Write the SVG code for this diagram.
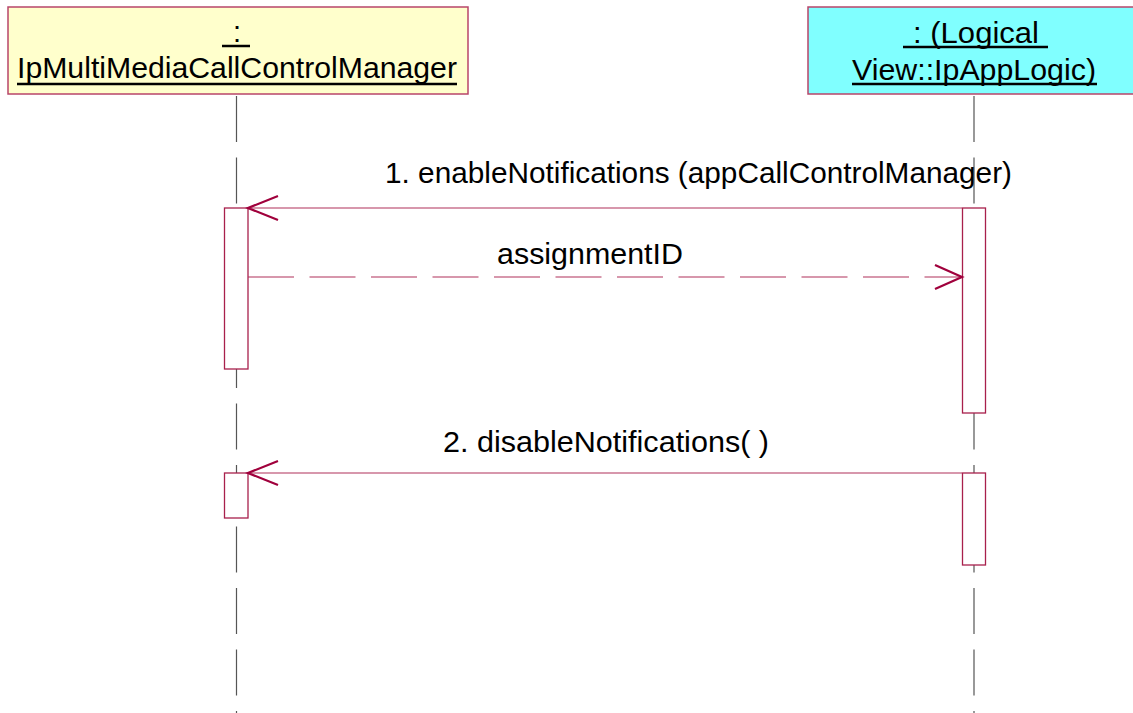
<svg xmlns="http://www.w3.org/2000/svg" width="1133" height="713" viewBox="0 0 1133 713">
<style>
text{font-family:"Liberation Sans",Arial,sans-serif;font-size:29px;fill:#000}
.obj{stroke:#b8456a;stroke-width:1.5}
.ul{stroke:#000;stroke-width:2.5}
.life{stroke:#555;stroke-width:1.2;stroke-dasharray:46 15.5;fill:none}
.act{fill:#fff;stroke:#a8204c;stroke-width:1.3}
.msg{stroke:#b0305a;stroke-width:1.2;fill:none}
.ret{stroke:#b0305a;stroke-width:1.2;fill:none;stroke-dasharray:46 15.5}
.head{stroke:#a0003c;stroke-width:2.2;fill:none}
</style>
<rect width="1133" height="713" fill="#fff"/>
<g id="lifelines">
<line class="life" x1="236.5" y1="96" x2="236.5" y2="713"/>
<line class="life" x1="974" y1="96" x2="974" y2="713"/>
</g>
<g id="node-manager">
<rect class="obj" x="8" y="7" width="460" height="87" fill="#ffffcc"/>
<text x="237" y="42" text-anchor="middle">:</text>
<line class="ul" x1="222" y1="46" x2="250" y2="46"/>
<text x="17" y="78" textLength="440" lengthAdjust="spacingAndGlyphs">IpMultiMediaCallControlManager</text>
<line class="ul" x1="17" y1="84" x2="457" y2="84"/>
</g>
<g id="node-applogic">
<rect class="obj" x="808" y="7" width="330" height="87" fill="#80ffff"/>
<text x="913" y="43" textLength="126" lengthAdjust="spacingAndGlyphs">: (Logical</text>
<line class="ul" x1="903" y1="47" x2="1048" y2="47"/>
<text x="852" y="80" textLength="244" lengthAdjust="spacingAndGlyphs">View::IpAppLogic)</text>
<line class="ul" x1="852" y1="84" x2="1097" y2="84"/>
</g>
<g id="activations">
<rect class="act" x="224.5" y="208" width="23.5" height="161"/>
<rect class="act" x="962.5" y="208" width="23" height="205"/>
<rect class="act" x="224.5" y="473" width="23.5" height="45"/>
<rect class="act" x="962.5" y="473" width="23" height="92"/>
</g>
<g id="connectors">
<line class="msg" x1="962" y1="208" x2="248" y2="208"/>
<polyline class="head" points="278,196 248,208 278,220"/>
<text x="385" y="183" textLength="627" lengthAdjust="spacingAndGlyphs">1. enableNotifications (appCallControlManager)</text>
<line class="ret" x1="248" y1="277" x2="962" y2="277"/>
<polyline class="head" points="935,265 962,277 935,289"/>
<text x="497" y="264" textLength="186" lengthAdjust="spacingAndGlyphs">assignmentID</text>
<line class="msg" x1="962" y1="473" x2="248" y2="473"/>
<polyline class="head" points="278,461 248,473 278,485"/>
<text x="443" y="452" textLength="326" lengthAdjust="spacingAndGlyphs">2. disableNotifications( )</text>
</g>
</svg>
